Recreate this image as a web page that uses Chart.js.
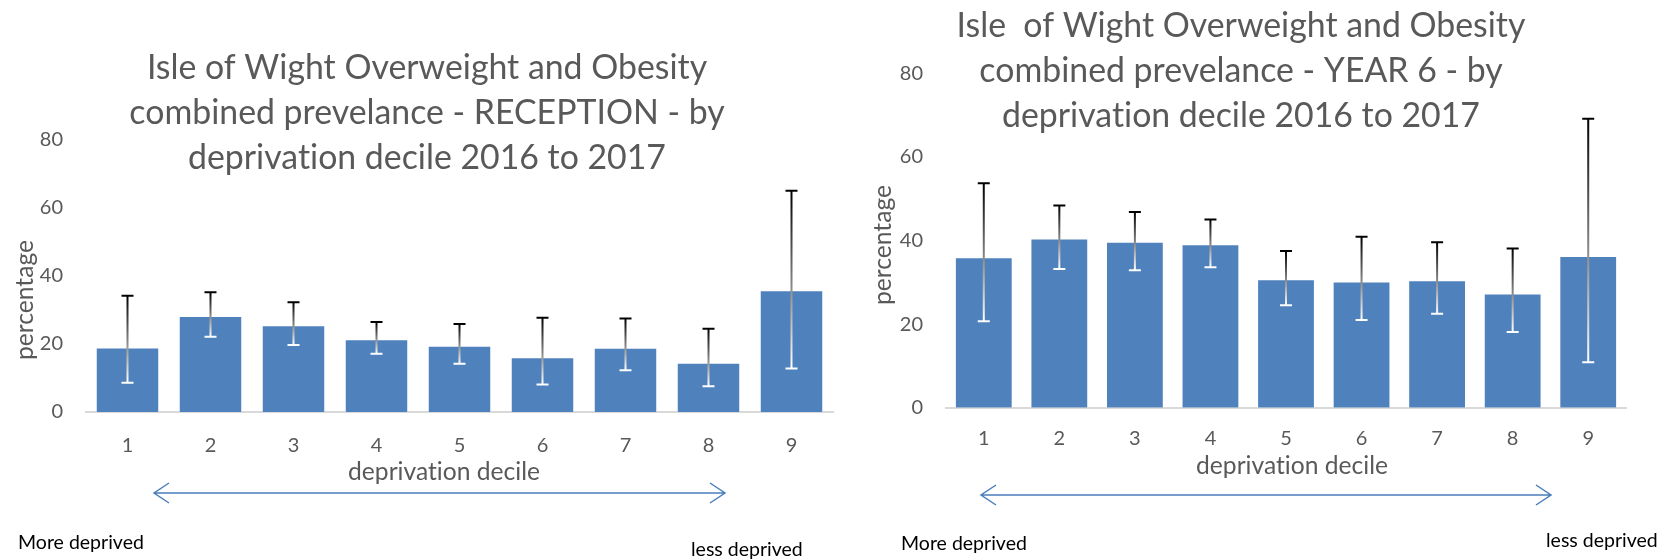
<!DOCTYPE html>
<html lang="en">
<head>
<meta charset="UTF-8">
<title>Isle of Wight Overweight and Obesity by deprivation decile</title>
<script src="https://cdn.jsdelivr.net/npm/chart.js"></script>
<style>
    body { margin: 0; background: #fff; }
    .janela { position: relative; width: 1670px; height: 560px; }
    .box { position: absolute; top: 0; width: 835px; height: 560px; }
</style>
</head>
<body>
<div class="janela">
    <div class="box" style="left:0"><canvas id="recChart"></canvas></div>
    <div class="box" style="left:835px"><canvas id="y6Chart"></canvas></div>
</div>

<script>
    // categories + axis ticks
    var deciles = ['1', '2', '3', '4', '5', '6', '7', '8', '9'];
    var yTicks = [0, 20, 40, 60, 80];

    // Reception (left chart)
    var recValues = [19.0, 28.2, 25.5, 21.4, 19.5, 16.1, 18.9, 14.5, 35.8];
    var recLow = [8.6, 22.1, 19.7, 17.1, 14.2, 8.1, 12.3, 7.6, 12.8];
    var recHigh = [34.2, 35.2, 32.3, 26.5, 25.9, 27.7, 27.5, 24.5, 65.1];

    // Year 6 (right chart)
    var y6Values = [36.0, 40.5, 39.7, 39.1, 30.7, 30.2, 30.5, 27.3, 36.3];
    var y6Low = [20.7, 33.2, 32.9, 33.6, 24.5, 21.0, 22.5, 18.1, 10.9];
    var y6High = [53.7, 48.4, 46.8, 45.0, 37.5, 40.9, 39.6, 38.1, 69.1];

    var recTitle = ['Isle of Wight Overweight and Obesity',
        'combined prevelance - RECEPTION - by',
        'deprivation decile 2016 to 2017'];
    var y6Title = ['Isle  of Wight Overweight and Obesity',
        'combined prevelance - YEAR 6 - by',
        'deprivation decile 2016 to 2017'];

    var FONT = 'Lato';
    var GREY = '#595959';
    Chart.defaults.font.family = FONT;

    // find a font size so that text gets the wanted width
    function fitSize(ctx, text, width) {
        ctx.font = '100px ' + FONT;
        return 100 * width / ctx.measureText(text).width;
    }

    // error bars: black at the top fading to white at the bottom
    var errorBars = {
        id: 'errorBars',
        afterDatasetsDraw: function (chart) {
            var ctx = chart.ctx;
            var ds = chart.data.datasets[0];
            var y = chart.scales.y;
            chart.getDatasetMeta(0).data.forEach(function (bar, i) {
                var top = y.getPixelForValue(ds.errHigh[i]);
                var bot = y.getPixelForValue(ds.errLow[i]);
                var g = ctx.createLinearGradient(0, top, 0, bot);
                g.addColorStop(0, '#000');
                g.addColorStop(1, '#fff');
                ctx.save();
                ctx.strokeStyle = g;
                ctx.lineWidth = 2;
                ctx.beginPath();
                ctx.moveTo(bar.x, top); ctx.lineTo(bar.x, bot);
                ctx.moveTo(bar.x - 6, top); ctx.lineTo(bar.x + 6, top);
                ctx.moveTo(bar.x - 6, bot); ctx.lineTo(bar.x + 6, bot);
                ctx.stroke();
                ctx.restore();
            });
        }
    };

    // title, axis titles, arrow and the more/less deprived notes
    function decor(cfg) {
        return {
            id: 'decor',
            afterDraw: function (chart) {
                var ctx = chart.ctx;
                ctx.save();
                // no "ti" ligature
                ctx.textRendering = 'optimizeSpeed';
                ctx.fillStyle = GREY;

                var ts = fitSize(ctx, cfg.title[2], 478);
                ctx.font = ts + 'px ' + FONT;
                ctx.textAlign = 'center';
                ctx.textBaseline = 'alphabetic';
                cfg.title.forEach(function (line, i) {
                    ctx.fillText(line, cfg.titleX, cfg.titleY[i]);
                });

                var xs = fitSize(ctx, 'deprivation decile', 192);
                ctx.font = xs + 'px ' + FONT;
                ctx.textBaseline = 'middle';
                ctx.fillText('deprivation decile', cfg.xTitle[0], cfg.xTitle[1]);

                var ys = fitSize(ctx, 'percentage', 120);
                ctx.font = ys + 'px ' + FONT;
                ctx.translate(cfg.yTitle[0], cfg.yTitle[1]);
                ctx.rotate(-Math.PI / 2);
                ctx.fillText('percentage', 0, 0);
                ctx.setTransform(1, 0, 0, 1, 0, 0);

                // double arrow
                var a = cfg.arrow;
                ctx.strokeStyle = '#4a7ebb';
                ctx.lineWidth = 1.5;
                ctx.beginPath();
                ctx.moveTo(a[0], a[2]); ctx.lineTo(a[1], a[2]);
                ctx.moveTo(a[0] + 15, a[2] - 10); ctx.lineTo(a[0], a[2]); ctx.lineTo(a[0] + 15, a[2] + 10);
                ctx.moveTo(a[1] - 15, a[2] - 10); ctx.lineTo(a[1], a[2]); ctx.lineTo(a[1] - 15, a[2] + 10);
                ctx.stroke();

                var ns = fitSize(ctx, 'More deprived', 126);
                ctx.font = ns + 'px ' + FONT;
                ctx.fillStyle = '#000';
                ctx.textAlign = 'left';
                ctx.fillText('More deprived', cfg.more[0], cfg.more[1]);
                ctx.fillText('less deprived', cfg.less[0], cfg.less[1]);
                ctx.restore();
            }
        };
    }

    function makeChart(id, values, low, high, pad, yWidth, tickPad, cfg) {
        return new Chart(document.getElementById(id), {
            type: 'bar',
            data: {
                labels: deciles,
                datasets: [{
                    data: values,
                    errLow: low,
                    errHigh: high,
                    backgroundColor: '#4f81bd',
                    borderColor: 'rgba(255,255,255,0.45)',
                    borderWidth: 1,
                    barPercentage: 0.765,
                    categoryPercentage: 1
                }]
            },
            options: {
                responsive: true,
                maintainAspectRatio: false,
                animation: false,
                layout: { padding: pad },
                plugins: {
                    legend: { display: false },
                    tooltip: { enabled: false }
                },
                scales: {
                    x: {
                        grid: { display: false, drawTicks: false },
                        border: { display: true, color: '#d9d9d9', width: 2 },
                        ticks: { color: GREY, font: { size: 20 }, padding: tickPad },
                        afterFit: function (s) { s.height = 60; }
                    },
                    y: {
                        min: 0,
                        max: 80,
                        grid: { display: false, drawTicks: false },
                        border: { display: false },
                        ticks: { color: GREY, font: { size: 20 }, padding: 23 },
                        afterBuildTicks: function (s) {
                            s.ticks = yTicks.map(function (v) { return { value: v }; });
                        },
                        afterFit: function (s) { s.width = yWidth; }
                    }
                }
            },
            plugins: [errorBars, decor(cfg)]
        });
    }

    window.onload = function () {
        makeChart('recChart', recValues, recLow, recHigh,
            { top: 140, left: 0, right: 2, bottom: 88 }, 86, 22, {
                title: recTitle, titleX: 427, titleY: [79, 124, 169],
                xTitle: [444, 472], yTitle: [25, 300],
                arrow: [154, 725, 493],
                more: [18, 543], less: [691, 550]
            });

        makeChart('y6Chart', y6Values, y6Low, y6High,
            { top: 73.3, left: 0, right: 44, bottom: 92.3 }, 111, 19, {
                title: y6Title, titleX: 406, titleY: [37, 82, 127],
                xTitle: [457, 466], yTitle: [47.7, 245],
                arrow: [146, 716, 495],
                more: [66, 544], less: [711, 541]
            });
    };
</script>
</body>
</html>
